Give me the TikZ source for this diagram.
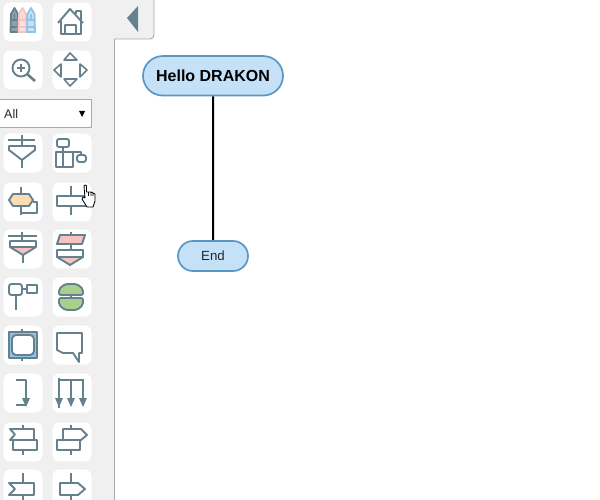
\documentclass[tikz,border=0pt]{standalone}
\usepackage{fontspec}
\setmainfont{Liberation Sans}
\usetikzlibrary{shapes.misc}
\definecolor{panelgray}{HTML}{F0F0F0}
\definecolor{edgegray}{HTML}{A8A8A8}
\definecolor{icon}{HTML}{66818E}
\definecolor{nodefill}{HTML}{C5E1F8}
\definecolor{nodeedge}{HTML}{5B97C4}
\definecolor{peach}{HTML}{FBDDB3}
\definecolor{pinkf}{HTML}{F6C4C0}
\definecolor{greenf}{HTML}{A8D08D}
\definecolor{bluef}{HTML}{8FC4E8}
\tikzset{
  x=1pt,y=-1pt,
  btn/.style={fill=white,draw=white!93!black,line width=.6pt,rounded corners=7pt},
  ic/.style={draw=icon,line width=1.9pt,line join=round},
  terminal/.style={draw=nodeedge,fill=nodefill,line width=1.7pt,rounded rectangle,inner sep=0pt,text=black},
}
\newcommand{\btnat}[2]{\path[btn] (#1,#2) rectangle ++(40,40);}
\newcommand{\pencil}[3]{%
  \draw[draw=#2,fill=#3,line width=1.8pt,line join=round] (#1-3.5,14)--(#1,8)--(#1+3.5,14)--(#1+4,32)--(#1-4,32)--cycle;
  \draw[draw=#2,line width=1.6pt] (#1-3.6,20)--(#1+3.6,20) (#1,14)--(#1,20) (#1-4,27)--(#1+4,27);}
\begin{document}
\begin{tikzpicture}
\useasboundingbox (0,0) rectangle (600,500);
\fill[white] (0,0) rectangle (600,500);
\fill[panelgray] (0,0) rectangle (115,500);
\fill[panelgray] (115,0) -- (154,0) -- (154,35) arc[start angle=0,end angle=90,radius=4] -- (115,39) -- cycle;
\draw[edgegray,line width=.9pt] (154,0) -- (154,35) arc[start angle=0,end angle=90,radius=4] -- (114.5,39) -- (114.5,500);
\fill[icon] (127,18) -- (138,6) -- (138,32) -- cycle;
% buttons
\foreach \yy in {2,50,133,182,229,277,325,373,422,469}{
  \btnat{3}{\yy}\btnat{52}{\yy}}
% pencils
\pencil{14.5}{icon}{icon!75!white}
\pencil{22.5}{pinkf}{pinkf!50!white}
\pencil{31}{bluef}{bluef!50!white}
% home
\draw[ic] (58,23)--(70,9)--(83,23) (76,14)--(76,11)--(81,11)--(81,20)
  (61,21)--(61,34)--(81,34)--(81,21) (65,34)--(65,25)--(76,25)--(76,34);
% zoom
\draw[ic] (21,68) circle[radius=8.5];
\draw[ic,line width=1.6pt] (17,68)--(25,68) (21,64)--(21,72);
\draw[ic,line width=2.6pt] (27,74)--(35,81);
% move
\draw[ic,line width=1.6pt] (70,53)--(64,60)--(77,60)--cycle (54,70)--(61,64)--(61,77)--cycle
  (87,70)--(80,64)--(80,77)--cycle (70,86)--(64,79)--(77,79)--cycle;
% select
\path[fill=white,draw=edgegray,line width=1pt] (-2,99.5) rectangle (91.5,128);
\node[anchor=base west,inner sep=0pt,font=\fontsize{12.5}{14}\selectfont,text=black!85] (allLabel) at (4,118.5) {All};
\fill[black] (79,111) -- (85,111) -- (82,117) -- cycle;
% funnel
\draw[ic] (8,140)--(35,140) (22,135)--(22,146);
\draw[ic] (9,146)--(35,146)--(35,150)--(22,160)--(9,150)--cycle (22,160)--(22,168);
% tree
\draw[ic,rounded corners=2pt] (57,139) rectangle (69,147);
\draw[ic] (56,152) rectangle (73,167) (63,147)--(63,167) (73,152)--(81,152)--(81,155);
\draw[ic,rounded corners=2.5pt] (77,155) rectangle (86,162);
% loop
\draw[ic] (21,187)--(21,194) (21,206)--(21,215) (33,202)--(37,202)--(37,213)--(21,213);
\draw[ic,fill=peach] (13,194)--(29,194)--(33,200)--(29,206)--(13,206)--(9,200)--cycle;
% action with cursor
\draw[ic] (71,186)--(71,215);
\draw[ic,fill=white] (57,196) rectangle (86,206);
\draw[black,fill=white,line width=.8pt,line join=round] (84,186) .. controls (84,184.5) and (86.5,184.5) .. (86.5,186) -- (86.5,192)
  -- (91,192) -- (95,194) -- (95,201) -- (93,207) -- (87,207) -- (82,199) -- (83,197) -- (85,198) -- cycle
  (88.5,192) -- (88.5,196) (91,192) -- (91,196) (93,193) -- (93,196);
% funnels pink
\draw[ic] (8,236)--(37,236) (22,232)--(22,241) (23,255)--(23,263);
\fill[pinkf] (10,247)--(36,247)--(23,255)--cycle;
\draw[ic] (10,241)--(36,241)--(36,247)--(23,255)--(10,247)--cycle (10,247)--(36,247);
\draw[ic] (71,232)--(71,235) (71,244)--(71,250) (70,266)--(70,263);
\draw[ic,fill=pinkf] (57,244)--(60,235)--(85,235)--(82,244)--cycle;
\fill[pinkf] (57,257)--(83,257)--(70,266)--cycle;
\draw[ic] (57,250)--(83,250)--(83,257)--(70,265)--(57,257)--cycle (57,257)--(83,257);
% pair
\draw[ic,rounded corners=2.5pt] (9,284) rectangle (22,295);
\draw[ic] (22,289)--(27,289) (27,285) rectangle (37,293) (16,295)--(16,310);
\draw[ic] (71,295)--(71,298);
\draw[ic,fill=greenf,rounded corners=2pt] (65,284)--(77,284)--(83,289)--(83,295)--(59,295)--(59,289)--cycle;
\draw[ic,fill=greenf,rounded corners=2pt] (59,298)--(83,298)--(83,305)--(77,310)--(65,310)--(59,305)--cycle;
% frame
\draw[ic] (22,329)--(22,332) (22,358)--(22,361);
\draw[ic,fill=bluef] (9,332) rectangle (37,358);
\draw[ic,fill=white,rounded corners=4pt] (12,335) rectangle (34,355);
% callout
\draw[ic] (57,333)--(57,350)--(63,353)--(73,353)--(79,362)--(79,353)--(82,353)--(82,333)--cycle;
% arrow
\draw[ic] (16,380)--(26,380)--(26,400) (16,405)--(26,405);
\fill[icon] (22,398)--(30,398)--(26,407)--cycle;
% multi arrow
\draw[ic] (58,380)--(84,380) (59,378)--(59,408) (71,380)--(71,400) (83,380)--(83,400);
\fill[icon] (55,398)--(63,398)--(59,407)--cycle (67,398)--(75,398)--(71,407)--cycle (79,398)--(87,398)--(83,407)--cycle;
% flag + rect
\draw[ic] (23,425)--(23,429) (23,450)--(23,455);
\draw[ic,fill=white] (10,429)--(34,429)--(34,440)--(10,440)--(15,434.5)--cycle;
\draw[ic,fill=white] (13,440) rectangle (37,450);
% pentagon + rect
\draw[ic] (71,425)--(71,429) (71,450)--(71,455);
\draw[ic,fill=white] (63,429)--(81,429)--(87,435)--(81,440)--(63,440)--cycle;
\draw[ic,fill=white] (57,440) rectangle (80,450);
% last row
\draw[ic] (23,473)--(23,483) (23,495)--(23,500) (71,473)--(71,483) (71,495)--(71,500);
\draw[ic,fill=white] (9,483)--(34,483)--(34,495)--(9,495)--(15,489)--cycle;
\draw[ic,fill=white] (60,483)--(78,483)--(85,489)--(78,495)--(60,495)--cycle;
% diagram
\node[terminal,minimum width=140pt,minimum height=39.5pt,font=\bfseries\fontsize{16}{18}\selectfont] (hello) at (213,75.8) {Hello DRAKON};
\node[terminal,minimum width=70pt,minimum height=30pt,font=\fontsize{13.3}{16}\selectfont,text=black!85] (end) at (213,256) {End};
\draw[black,line width=2pt] (hello) -- (end);
\end{tikzpicture}
\end{document}
